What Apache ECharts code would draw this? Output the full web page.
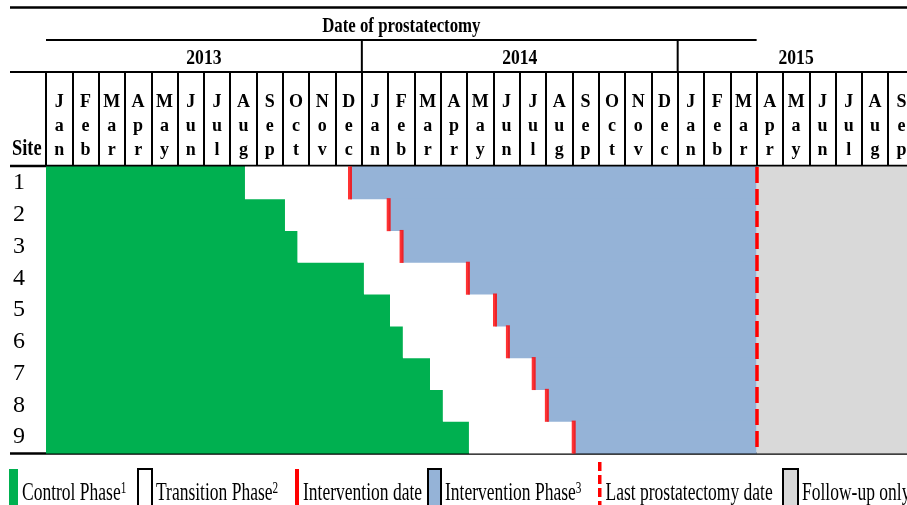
<!DOCTYPE html>
<html>
<head>
<meta charset="utf-8">
<script src="https://cdn.jsdelivr.net/npm/echarts@6/dist/echarts.min.js"></script>
<style>
  html, body { margin: 0; padding: 0; background: #fff; }
  #chart { width: 907px; height: 505px; }
</style>
</head>
<body>
<div id="chart"></div>
<script>
// months counted from 1 Jan 2013 (0) to end of Sep 2015 (33)
const sites = ['1', '2', '3', '4', '5', '6', '7', '8', '9'];
const monthNames = ['Jan', 'Feb', 'Mar', 'Apr', 'May', 'Jun', 'Jul', 'Aug', 'Sep', 'Oct', 'Nov', 'Dec'];
const months = monthNames.concat(monthNames, monthNames.slice(0, 9));
const years = ['2013', '2014', '2015'];
const yearStart = [0, 12, 24];
const yearEnd = [12, 24, 33];
const controlEnd = [7.56, 9.08, 9.56, 12.08, 13.07, 13.56, 14.59, 15.08, 16.07];
const interventionDate = [11.55, 13.02, 13.51, 16.03, 17.06, 17.55, 18.53, 19.03, 20.05];
const lastProstatectomy = 27;
const followUpEnd = 33;
const headerTitle = 'Date of prostatectomy';
const legendNames = ['Control Phase', 'Transition Phase', 'Intervention date', 'Intervention Phase', 'Last prostatectomy date', 'Follow-up only'];
const legendNotes = ['1', '2', '', '3', '', ''];

const SERIF = '"Liberation Serif", "Times New Roman", serif';
const GREEN = '#00b050', BLUE = '#95b3d7', GREY = '#d9d9d9', RED = '#ff0000';
const PLOT_W = 26.32 * followUpEnd;

const chart = echarts.init(document.getElementById('chart'), null, { renderer: 'canvas' });

// one row segment per site: [start, end, siteIndex]
function phaseSeries(name, starts, ends, color) {
  return {
    name: name,
    type: 'custom',
    xAxisIndex: 0,
    yAxisIndex: 0,
    silent: true,
    data: sites.map((s, i) => [starts[i], ends[i], i]),
    renderItem: function (params, api) {
      const a = api.coord([api.value(0), api.value(2)]);
      const b = api.coord([api.value(1), api.value(2)]);
      const h = api.size([0, 1])[1];
      // half a pixel of overlap so the rows join without seams
      return {
        type: 'rect',
        shape: { x: a[0], y: a[1] - h / 2 - 0.5, width: b[0] - a[0], height: h + 1 },
        style: { fill: color }
      };
    }
  };
}

const zeros = sites.map(() => 0);
const lastDates = sites.map(() => lastProstatectomy);
const followEnds = sites.map(() => followUpEnd);

// horizontal rules of the header table
const rule = (x1, x2, y, w) => ({
  type: 'line', silent: true,
  shape: { x1: x1, y1: y, x2: x2, y2: y },
  style: { stroke: '#000', lineWidth: w }
});

// legend swatches
const swatchLeft = [9, 138, 295, 428, 598, 783];
const swatchWidth = [9, 14, 4, 13, 3.5, 15];
const swatchStyle = [
  { fill: GREEN },
  { fill: '#fff', stroke: '#000', lineWidth: 2 },
  { fill: RED },
  { fill: BLUE, stroke: '#000', lineWidth: 2 },
  null,
  { fill: GREY, stroke: '#000', lineWidth: 2 }
];
const legendGraphics = [];
legendNames.forEach((name, i) => {
  const x = swatchLeft[i];
  if (swatchStyle[i]) {
    legendGraphics.push({
      type: 'rect', silent: true,
      shape: { x: x, y: 469, width: swatchWidth[i], height: 45 },
      style: swatchStyle[i]
    });
  } else {
    legendGraphics.push({
      type: 'line', silent: true,
      shape: { x1: x + 1.75, y1: 462, x2: x + 1.75, y2: 512 },
      style: { stroke: RED, lineWidth: 3.5, lineDash: [9, 4] }
    });
  }
  legendGraphics.push({
    type: 'text', silent: true,
    x: x + swatchWidth[i] + 4, y: 493, scaleX: 0.7,
    style: {
      text: legendNotes[i] ? name + '{sup|' + legendNotes[i] + '}' : name,
      font: '25px ' + SERIF,
      fill: '#000',
      verticalAlign: 'middle',
      rich: { sup: { fontSize: 16, fontFamily: SERIF, verticalAlign: 'top', fill: '#000' } }
    }
  });
});

const option = {
  animation: false,
  grid: [
    { left: 46, top: 167, width: PLOT_W, height: 286, outerBoundsMode: 'none' },
    { left: 46, top: 72, width: PLOT_W, height: 94, outerBoundsMode: 'none' },
    { left: 46, top: 40, width: PLOT_W, height: 32, outerBoundsMode: 'none' }
  ],
  xAxis: [
    { gridIndex: 0, type: 'value', min: 0, max: followUpEnd, show: false },
    {
      gridIndex: 1, type: 'category', data: months, position: 'bottom',
      axisLine: { show: false }, axisTick: { show: false },
      splitLine: { show: true, interval: 0, lineStyle: { color: '#000', width: 2 } },
      axisLabel: {
        inside: true, interval: 0, margin: 4,
        formatter: v => v.split('').join('\n'),
        fontFamily: SERIF, fontWeight: 'bold', fontSize: 18, lineHeight: 24, color: '#000'
      }
    },
    { gridIndex: 2, type: 'value', min: 0, max: followUpEnd, show: false }
  ],
  yAxis: [
    {
      gridIndex: 0, type: 'category', data: sites, inverse: true,
      axisLine: { show: false }, axisTick: { show: false }, splitLine: { show: false },
      axisLabel: { interval: 0, align: 'left', margin: 33, fontFamily: SERIF, fontSize: 24, color: '#000' }
    },
    { gridIndex: 1, type: 'value', min: 0, max: 1, show: false },
    { gridIndex: 2, type: 'value', min: 0, max: 1, show: false }
  ],
  graphic: [
    rule(10, 907, 7.5, 2.5),
    rule(10, 907, 72, 2),
    rule(10, 907, 166, 2.5),
    rule(10, 907, 453.5, 2.5),
    {
      type: 'text', silent: true, x: 12, y: 161, scaleX: 0.8,
      style: { text: 'Site', font: 'bold 23px ' + SERIF, fill: '#000', verticalAlign: 'bottom' }
    }
  ].concat(legendGraphics),
  series: [
    phaseSeries('Control Phase', zeros, controlEnd, GREEN),
    phaseSeries('Transition Phase', controlEnd, interventionDate, '#fff'),
    phaseSeries('Intervention Phase', interventionDate, lastDates, BLUE),
    Object.assign(phaseSeries('Follow-up only', lastDates, followEnds, GREY), {
      markLine: {
        silent: true,
        symbol: ['none', 'none'],
        label: { show: false },
        lineStyle: { color: RED, type: [16, 6], width: 3.5 },
        data: [{ xAxis: lastProstatectomy }]
      }
    }),
    {
      name: 'Intervention date',
      type: 'scatter',
      xAxisIndex: 0, yAxisIndex: 0,
      symbol: 'rect', symbolSize: [4, 33],
      silent: true, z: 5,
      itemStyle: { color: RED },
      data: interventionDate.map((v, i) => [v, i])
    },
    {
      // year cells
      type: 'custom', xAxisIndex: 2, yAxisIndex: 2, clip: false, silent: true,
      data: years.map((y, i) => [yearStart[i], yearEnd[i], i]),
      renderItem: function (params, api) {
        const s = api.value(0), e = api.value(1);
        const a = api.coord([s, 1]), b = api.coord([e, 0]);
        const children = [{
          type: 'text', x: (a[0] + b[0]) / 2, y: (a[1] + b[1]) / 2 + 2, scaleX: 0.8,
          style: {
            text: years[api.value(2)], font: 'bold 22px ' + SERIF, fill: '#000',
            align: 'center', verticalAlign: 'middle'
          }
        }];
        if (s > 0) {
          children.push({
            type: 'line',
            shape: { x1: a[0], y1: a[1], x2: a[0], y2: b[1] },
            style: { stroke: '#000', lineWidth: 2 }
          });
        }
        return { type: 'group', children: children };
      }
    },
    {
      // title spanning the prostatectomy period
      type: 'custom', xAxisIndex: 2, yAxisIndex: 2, clip: false, silent: true,
      data: [[0, lastProstatectomy]],
      renderItem: function (params, api) {
        const a = api.coord([api.value(0), 1]), b = api.coord([api.value(1), 1]);
        return {
          type: 'group',
          children: [
            {
              type: 'line',
              shape: { x1: a[0], y1: a[1], x2: b[0], y2: b[1] },
              style: { stroke: '#000', lineWidth: 2 }
            },
            {
              type: 'text', x: (a[0] + b[0]) / 2, y: a[1] - 13, scaleX: 0.8,
              style: {
                text: headerTitle, font: 'bold 21px ' + SERIF, fill: '#000',
                align: 'center', verticalAlign: 'middle'
              }
            }
          ]
        };
      }
    }
  ]
};

chart.setOption(option);
window.addEventListener('resize', () => chart.resize());
</script>
</body>
</html>
